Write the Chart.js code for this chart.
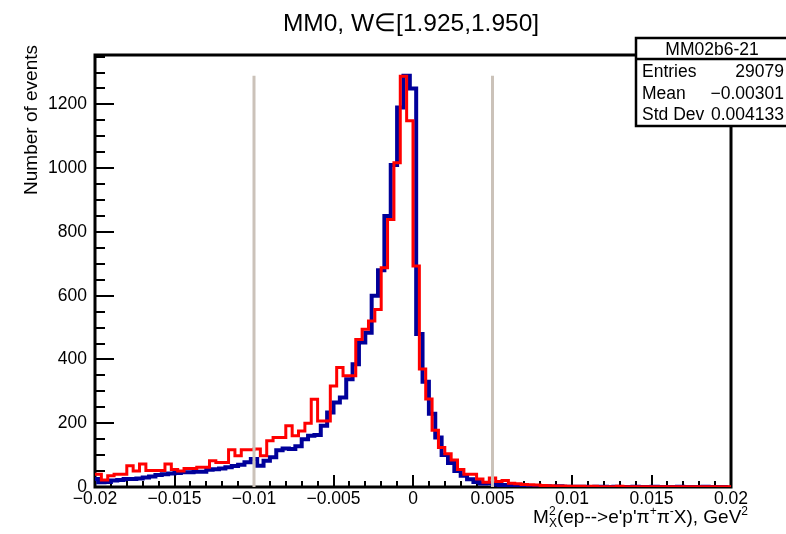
<!DOCTYPE html>
<html>
<head>
<meta charset="utf-8">
<script src="https://cdn.jsdelivr.net/npm/chart.js@4.4.1/dist/chart.umd.min.js"></script>
<style>
  html, body { margin: 0; padding: 0; background: #fff; }
  #wrap { width: 786px; height: 534px; }
</style>
</head>
<body>
<div id="wrap"><canvas id="mm0" width="786" height="534"></canvas></div>
<script>
// MM0 missing mass squared, W in [1.925,1.950]

const xMin = -0.02;
const xMax = 0.02;
const yMax = 1355;
const binWidth = 0.0004;
const redStart = -0.02;
const blueStart = -0.0202;   // blue histogram sits half a bin to the left

// counts per bin
const redCounts = [
  40, 22, 35, 40, 40, 67, 50, 72, 52, 52, 52, 72, 55, 50, 58, 58, 62, 62, 82, 77, 77, 117, 98, 117, 117,
  119, 98, 145, 155, 155, 192, 161, 176, 200, 275, 207, 207, 317, 375, 349, 349, 463, 495, 521, 557, 688, 839, 1017, 1288, 1149,
  693, 370, 276, 178, 124, 104, 85, 55, 40, 40, 25, 15, 28, 17, 20, 12, 10, 8, 7, 6, 5, 4, 3, 3, 2,
  2, 2, 1, 2, 1, 1, 1, 2, 1, 1, 1, 1, 1, 1, 1, 1, 1, 1, 1, 1, 1, 1, 1, 1, 1
];
const blueCounts = [
  25, 15, 16, 20, 22, 25, 25, 27, 30, 33, 38, 40, 42, 44, 46, 46, 48, 48, 54, 56, 58, 62, 66, 70, 78,
  88, 67, 82, 93, 115, 121, 119, 128, 150, 161, 163, 192, 234, 265, 281, 338, 385, 453, 484, 600, 680, 850, 1010, 1190, 1290,
  1250, 480, 330, 230, 155, 100, 75, 50, 35, 24, 16, 11, 12, 8, 6, 5, 4, 3, 3, 2, 2, 2, 1, 2, 1,
  1, 1, 1, 0, 1, 1, 0, 1, 0, 0, 1, 0, 0, 1, 0, 0, 0, 1, 0, 0, 0, 1, 0, 0, 0
];

const cutLines = [-0.01, 0.005];
const cutTop = 1290;

const xTicks = [-0.02, -0.015, -0.01, -0.005, 0, 0.005, 0.01, 0.015, 0.02];
const xTickLabels = ['\u22120.02', '\u22120.015', '\u22120.01', '\u22120.005', '0', '0.005', '0.01', '0.015', '0.02'];
const yTicks = [0, 200, 400, 600, 800, 1000, 1200];

const titleText = 'MM0, W\u2208[1.925,1.950]';
const yTitle = 'Number of events';
const statsName = 'MM02b6-21';
const statsRows = [
  ['Entries', '29079'],
  ['Mean', '\u22120.00301'],
  ['Std Dev', '0.004133']
];

const FONT = '"Liberation Sans", Arial, Helvetica, sans-serif';

function stepPoints(counts, start) {
  const pts = counts.map((c, i) => ({ x: start + i * binWidth, y: c }));
  pts.push({ x: start + counts.length * binWidth, y: counts[counts.length - 1] });
  return pts;
}

function cutLine(x) {
  return {
    data: [{ x: x, y: 0 }, { x: x, y: cutTop }],
    borderColor: '#cbc2b9',
    borderWidth: 3,
    pointRadius: 0
  };
}

// frame and inward ticks, drawn under the histograms
const rootFrame = {
  id: 'rootFrame',
  beforeDatasetsDraw(chart) {
    const ctx = chart.ctx, a = chart.chartArea;
    const xs = chart.scales.x, ys = chart.scales.y;
    ctx.save();
    ctx.strokeStyle = '#000';
    ctx.lineWidth = 3;
    ctx.strokeRect(a.left, a.top, a.right - a.left, a.bottom - a.top);

    ctx.lineWidth = 2;
    ctx.beginPath();
    for (let k = 0; k <= 40; k++) {
      const px = Math.round(xs.getPixelForValue(xMin + k * 0.001));
      const len = k % 5 === 0 ? 12 : 6;
      ctx.moveTo(px, a.bottom);
      ctx.lineTo(px, a.bottom - len);
    }
    for (let v = 0; v <= yMax; v += 50) {
      const py = Math.round(ys.getPixelForValue(v));
      const len = v % 200 === 0 ? 19 : 10;
      ctx.moveTo(a.left, py);
      ctx.lineTo(a.left + len, py);
    }
    ctx.stroke();
    ctx.restore();
  },
  afterDraw(chart) {
    const ctx = chart.ctx;
    ctx.save();
    ctx.fillStyle = '#000';

    // title
    ctx.font = '24.5px ' + FONT;
    ctx.textAlign = 'center';
    ctx.textBaseline = 'alphabetic';
    ctx.fillText(titleText, 411, 31);

    // y title
    ctx.save();
    ctx.translate(37, 45);
    ctx.rotate(-Math.PI / 2);
    ctx.font = '19px ' + FONT;
    ctx.textAlign = 'right';
    ctx.fillText(yTitle, 0, 0);
    ctx.restore();

    // x title with scripts
    const big = '19px ' + FONT, small = '12px ' + FONT;
    const parts = [
      { t: 'M', f: big, dy: 0 },
      { t: '2', f: small, dy: -8, stack: 'X' },
      { t: "(ep-->e'p'\u03c0", f: big, dy: 0 },
      { t: '+', f: small, dy: -8 },
      { t: '\u03c0', f: big, dy: 0 },
      { t: '-', f: small, dy: -8 },
      { t: 'X), GeV', f: big, dy: 0 },
      { t: '2', f: small, dy: -8 }
    ];
    let total = 0;
    parts.forEach(p => {
      ctx.font = p.f;
      p.w = ctx.measureText(p.t).width;
      if (p.stack) p.w = Math.max(p.w, ctx.measureText(p.stack).width);
      total += p.w;
    });
    let px = 748 - total;
    const base = 523;
    ctx.textAlign = 'left';
    parts.forEach(p => {
      ctx.font = p.f;
      ctx.fillText(p.t, px, base + p.dy);
      if (p.stack) ctx.fillText(p.stack, px, base + 4);
      px += p.w;
    });

    // stats box
    const bx = 636, by = 38, bw = 160, bh = 88;
    ctx.fillStyle = '#fff';
    ctx.fillRect(bx, by, bw, bh);
    ctx.strokeStyle = '#000';
    ctx.lineWidth = 2.5;
    ctx.strokeRect(bx, by, bw, bh);
    ctx.beginPath();
    ctx.moveTo(bx, 59);
    ctx.lineTo(bx + bw, 59);
    ctx.stroke();
    ctx.fillStyle = '#000';
    ctx.font = '17.5px ' + FONT;
    ctx.textAlign = 'center';
    ctx.fillText(statsName, 712, 55);
    statsRows.forEach((r, i) => {
      const yb = 77 + i * 21.5;
      ctx.textAlign = 'left';
      ctx.fillText(r[0], 642, yb);
      ctx.textAlign = 'right';
      ctx.fillText(r[1], 784, yb);
    });
    ctx.restore();
  }
};

Chart.defaults.font.family = FONT;
Chart.defaults.color = '#000';

new Chart(document.getElementById('mm0'), {
  type: 'line',
  data: {
    datasets: [
      cutLine(cutLines[0]),
      cutLine(cutLines[1]),
      {
        data: stepPoints(redCounts, redStart),
        borderColor: '#ff0000',
        borderWidth: 3,
        pointRadius: 0,
        stepped: true
      },
      {
        data: stepPoints(blueCounts, blueStart),
        borderColor: '#00009a',
        borderWidth: 4,
        pointRadius: 0,
        stepped: true
      }
    ]
  },
  options: {
    responsive: false,
    animation: false,
    devicePixelRatio: 1,
    layout: { padding: { top: 55, right: 55, left: 0, bottom: 0 } },
    plugins: {
      legend: { display: false },
      title: { display: false },
      tooltip: { enabled: false }
    },
    scales: {
      x: {
        type: 'linear',
        min: xMin,
        max: xMax,
        grid: { display: false, drawTicks: false },
        border: { display: false },
        afterBuildTicks: axis => { axis.ticks = xTicks.map(v => ({ value: v })); },
        afterFit: axis => { axis.height = 47; },
        ticks: {
          autoSkip: false,
          maxRotation: 0,
          padding: 2,
          font: { size: 17.5 },
          callback: (v, i) => xTickLabels[i]
        }
      },
      y: {
        min: 0,
        max: yMax,
        grid: { display: false, drawTicks: false },
        border: { display: false },
        afterBuildTicks: axis => { axis.ticks = yTicks.map(v => ({ value: v })); },
        afterFit: axis => { axis.width = 95; },
        ticks: {
          padding: 8,
          font: { size: 17.5 },
          callback: v => String(v)
        }
      }
    }
  },
  plugins: [rootFrame]
});
</script>
</body>
</html>
